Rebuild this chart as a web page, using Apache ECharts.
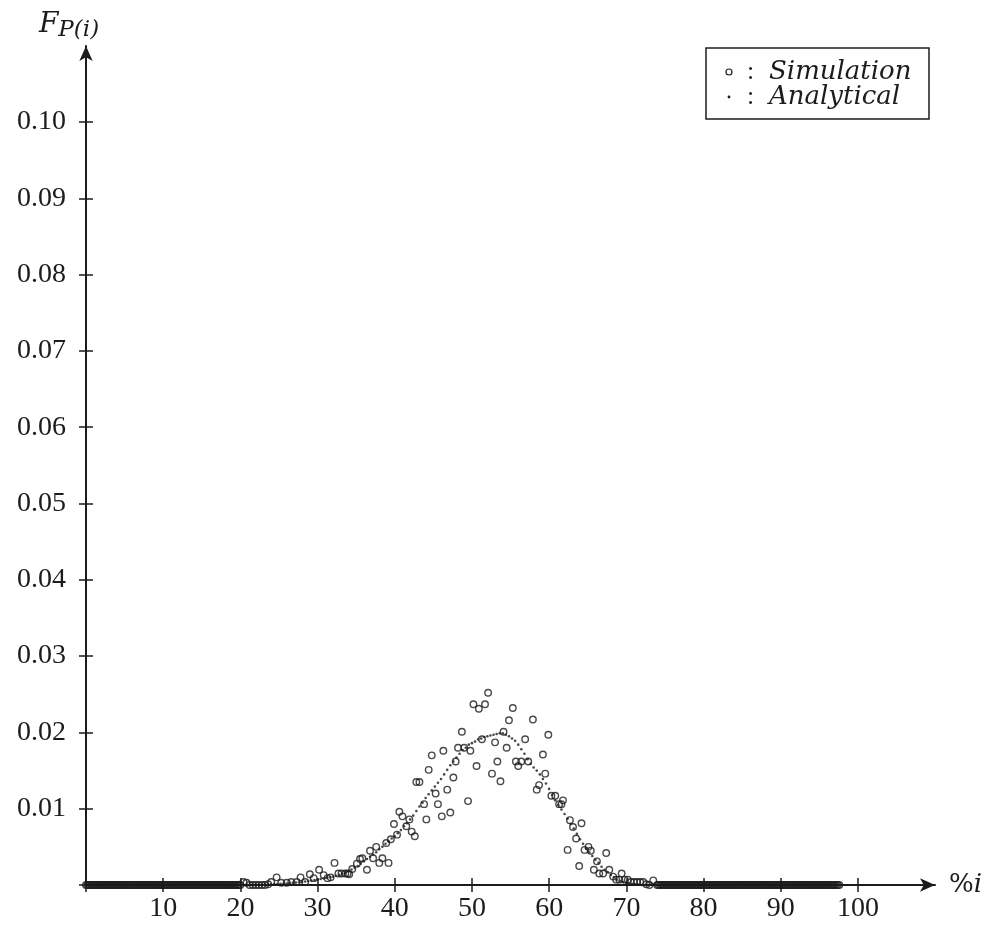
<!DOCTYPE html>
<html>
<head>
<meta charset="utf-8">
<title>F_P(i) distribution</title>
<script src="https://cdn.jsdelivr.net/npm/echarts@6.0.0/dist/echarts.min.js"></script>
<style>
  html, body { margin: 0; padding: 0; background: #fff; }
  #chart { width: 990px; height: 930px; }
</style>
</head>
<body>
<div id="chart"></div>
<script>
// ---- data -------------------------------------------------------------
// points lying on the axis (value 0) on both sides of the bump
const tailLeftX = [0,0.2,0.4,0.6,0.8,1,1.2,1.4,1.6,1.8,2,2.2,2.4,2.6,2.8,3,3.2,3.4,3.6,3.8,
  4,4.2,4.4,4.6,4.8,5,5.2,5.4,5.6,5.8,6,6.2,6.4,6.6,6.8,7,7.2,7.4,7.6,7.8,
  8,8.2,8.4,8.6,8.8,9,9.2,9.4,9.6,9.8,10,10.2,10.4,10.6,10.8,11,11.2,11.4,11.6,11.8,
  12,12.2,12.4,12.6,12.8,13,13.2,13.4,13.6,13.8,14,14.2,14.4,14.6,14.8,15,15.2,15.4,15.6,15.8,
  16,16.2,16.4,16.6,16.8,17,17.2,17.4,17.6,17.8,18,18.2,18.4,18.6,18.8,19,19.2,19.4,19.6,19.8,20];
const tailRightX = [74,74.2,74.4,74.6,74.8,75,75.2,75.4,75.6,75.8,76,76.2,76.4,76.6,76.8,77,77.2,77.4,77.6,77.8,
  78,78.2,78.4,78.6,78.8,79,79.2,79.4,79.6,79.8,80,80.2,80.4,80.6,80.8,81,81.2,81.4,81.6,81.8,
  82,82.2,82.4,82.6,82.8,83,83.2,83.4,83.6,83.8,84,84.2,84.4,84.6,84.8,85,85.2,85.4,85.6,85.8,
  86,86.2,86.4,86.6,86.8,87,87.2,87.4,87.6,87.8,88,88.2,88.4,88.6,88.8,89,89.2,89.4,89.6,89.8,
  90,90.2,90.4,90.6,90.8,91,91.2,91.4,91.6,91.8,92,92.2,92.4,92.6,92.8,93,93.2,93.4,93.6,93.8,
  94,94.2,94.4,94.6,94.8,95,95.2,95.4,95.6,95.8,96,96.2,96.4,96.6,96.8,97,97.2,97.4,97.6];

// simulated frequencies
const simX = [20.4,20.8,21.2,21.6,22,22.4,22.8,23.2,23.6,24,24.7,25.3,26,26.6,27.3,27.8,28.4,29,29.5,
  30.2,30.8,31.3,31.7,32.2,32.7,33.1,33.6,33.9,34.1,34.5,35.1,35.5,35.8,36.4,36.8,37.2,37.6,38,38.4,
  38.9,39.2,39.5,39.9,40.3,40.6,41,41.5,41.9,42.2,42.6,42.8,43.2,43.8,44.1,44.4,44.8,45.3,45.6,46.1,
  46.3,46.8,47.2,47.6,47.9,48.2,48.7,49,49.5,49.8,50.2,50.6,50.9,51.3,51.7,52.1,52.6,53,53.3,53.7,
  54.1,54.5,54.8,55.3,55.7,56,56.4,56.9,57.3,57.9,58.4,58.7,59.2,59.5,59.9,60.3,60.8,61.3,61.6,61.8,
  62.4,62.7,63.1,63.5,63.9,64.2,64.6,65.1,65.4,65.8,66.2,66.5,67,67.4,67.8,68.3,68.7,69.1,69.4,69.8,
  70.2,70.6,71,71.4,71.8,72.2,72.6,73,73.5];
const simY = [0.0004,0.0003,0,0,0,0,0,0,0.0001,0.0004,0.001,0.0003,0.0003,0.0004,0.0004,0.001,0.0004,0.0014,0.0009,
  0.002,0.0013,0.0009,0.001,0.0029,0.0015,0.0015,0.0015,0.0015,0.0014,0.0021,0.0028,0.0034,0.0035,0.002,0.0045,0.0035,0.005,0.0029,0.0035,
  0.0055,0.0029,0.006,0.008,0.0066,0.0096,0.009,0.0077,0.0086,0.007,0.0064,0.0135,0.0135,0.0106,0.0086,0.0151,0.017,0.012,0.0106,0.009,
  0.0176,0.0125,0.0095,0.0141,0.0162,0.018,0.0201,0.018,0.011,0.0176,0.0237,0.0156,0.0231,0.0191,0.0237,0.0252,0.0146,0.0187,0.0162,0.0136,
  0.0201,0.018,0.0216,0.0232,0.0162,0.0156,0.0162,0.0191,0.0162,0.0217,0.0125,0.0131,0.0171,0.0146,0.0197,0.0117,0.0117,0.0106,0.0106,0.0111,
  0.0046,0.0085,0.0076,0.0061,0.0025,0.0081,0.0046,0.005,0.0045,0.002,0.0031,0.0015,0.0015,0.0042,0.002,0.0011,0.0007,0.0007,0.0015,0.0007,
  0.0007,0.0004,0.0004,0.0004,0.0004,0.0004,0.0001,0,0.0006];

// analytical curve
const anaX = [20.4,20.8,21.2,21.6,22,22.4,22.8,23.2,23.6,24,24.4,24.8,25.2,25.6,26,26.4,26.8,27.2,27.6,28,
  28.4,28.8,29.2,29.6,30,30.4,30.8,31.2,31.6,32,32.4,32.8,33.2,33.6,34,34.4,34.8,35.2,35.6,36,
  36.4,36.8,37.2,37.6,38,38.4,38.8,39.2,39.6,40,40.4,40.8,41.2,41.6,42,42.4,42.8,43.2,43.6,44,
  44.4,44.8,45.2,45.6,46,46.4,46.8,47.2,47.6,48,48.4,48.8,49.2,49.6,50,50.4,50.8,51.2,51.6,52,
  52.4,52.8,53.2,53.6,54,54.4,54.8,55.2,55.6,56,56.4,56.8,57.2,57.6,58,58.4,58.8,59.2,59.6,60,
  60.4,60.8,61.2,61.6,62,62.4,62.8,63.2,63.6,64,64.4,64.8,65.2,65.6,66,66.4,66.8,67.2,67.6,68,
  68.4,68.8,69.2,69.6,70,70.4,70.8,71.2,71.6,72,72.4,72.8,73.2,73.6];
const anaY = [0,0,0,0,0.00002,0.00003,0.00004,0.00005,0.00007,0.00009,0.00011,0.00013,0.00015,0.00018,0.0002,0.00024,0.00028,0.00032,0.00036,0.0004,
  0.00046,0.00052,0.00058,0.00064,0.0007,0.00078,0.00086,0.00094,0.00102,0.0011,0.00122,0.00134,0.00146,0.00162,0.0018,0.00203,0.00226,0.0025,0.00278,0.0031,
  0.0034,0.0037,0.004,0.0043,0.0047,0.005,0.0054,0.0057,0.0061,0.0064,0.0068,0.0072,0.0077,0.0081,0.0086,0.0091,0.0097,0.0103,0.0108,0.0114,
  0.0119,0.0124,0.0129,0.0134,0.0139,0.0145,0.0151,0.0157,0.0162,0.0167,0.0172,0.0177,0.018,0.0184,0.0186,0.0188,0.0191,0.0192,0.0194,0.0195,
  0.0196,0.0197,0.0198,0.0199,0.0199,0.0197,0.0195,0.0192,0.0189,0.0184,0.0178,0.0172,0.0165,0.0159,0.0154,0.015,0.0145,0.0139,0.0133,0.0126,
  0.0118,0.0111,0.0105,0.0099,0.0093,0.0087,0.008,0.0074,0.0067,0.006,0.0054,0.0048,0.0043,0.0038,0.0033,0.0029,0.0024,0.002,0.0017,0.0013,
  0.001,0.0007,0.0005,0.0004,0.0003,0.0002,0.00015,0.0001,0.00005,0,0,0,0,0];

// tick labels
const xTickValues = [10,20,30,40,50,60,70,80,90,100];
const xTickLabels = ['10','20','30','40','50','60','70','80','90','100'];
const yTickValues = [0.01,0.02,0.03,0.04,0.05,0.06,0.07,0.08,0.09,0.10];
const yTickLabels = ['0.01','0.02','0.03','0.04','0.05','0.06','0.07','0.08','0.09','0.10'];

// ---- chart ------------------------------------------------------------
const ink = '#1c1c1c';
const romanFont = 'Liberation Serif';
const mathFont = 'DejaVu Serif';

function lookupLabel(values, labels, v) {
  const i = values.findIndex(t => Math.abs(t - v) < 1e-9);
  return i < 0 ? '' : labels[i];
}

const simData = [
  ...tailLeftX.map(x => [x, 0]),
  ...simX.map((x, i) => [x, simY[i]]),
  ...tailRightX.map(x => [x, 0])
];
const anaData = [
  ...tailLeftX.map(x => [x, 0]),
  ...anaX.map((x, i) => [x, anaY[i]]),
  ...tailRightX.map(x => [x, 0])
];

const chart = echarts.init(document.getElementById('chart'), null, { renderer: 'canvas' });

chart.setOption({
  animation: false,
  backgroundColor: '#fff',
  grid: [
    // plotting frame, up to the arrow heads
    { left: 86, right: 55, top: 46, bottom: 45 },
    // frame holding the ticked range 0..100 / 0..0.10
    { left: 86, right: 132, top: 122, bottom: 45 }
  ],
  xAxis: [
    {
      gridIndex: 0, type: 'value', min: 0, max: 110,
      axisLine: { show: true, symbol: ['none', 'arrow'], symbolSize: [10, 15],
                  lineStyle: { color: ink, width: 2 } },
      axisTick: { show: false }, axisLabel: { show: false }, splitLine: { show: false },
      name: '{p|%}{i|i}', nameLocation: 'end', nameGap: 14,
      nameTextStyle: {
        verticalAlign: 'middle',
        rich: {
          p: { fontFamily: mathFont, fontSize: 26, color: ink },
          i: { fontFamily: mathFont, fontStyle: 'italic', fontSize: 26, color: ink }
        }
      }
    },
    {
      gridIndex: 1, type: 'value', min: 0, max: 100, interval: 10, offset: -7,
      axisLine: { show: false },
      axisTick: { show: true, length: 14, lineStyle: { color: ink, width: 1.5 } },
      axisLabel: {
        margin: 17, fontFamily: romanFont, fontSize: 28, color: ink,
        formatter: v => lookupLabel(xTickValues, xTickLabels, v)
      },
      splitLine: { show: false }
    }
  ],
  yAxis: [
    {
      gridIndex: 0, type: 'value', min: 0, max: 0.11,
      axisLine: { show: true, symbol: ['none', 'arrow'], symbolSize: [10, 15],
                  lineStyle: { color: ink, width: 2 } },
      axisTick: { show: false }, axisLabel: { show: false }, splitLine: { show: false },
      name: '{f|F}{s|P(i)}', nameLocation: 'end', nameGap: 11,
      nameTextStyle: {
        align: 'center', verticalAlign: 'bottom', padding: [0, 34, 0, 0],
        rich: {
          f: { fontFamily: mathFont, fontStyle: 'italic', fontSize: 28, lineHeight: 24,
               verticalAlign: 'top', color: ink },
          s: { fontFamily: mathFont, fontStyle: 'italic', fontSize: 23, lineHeight: 22,
               padding: [14, 0, 0, 0], color: ink }
        }
      }
    },
    {
      gridIndex: 1, type: 'value', min: 0, max: 0.10, interval: 0.01, offset: -7,
      axisLine: { show: false },
      axisTick: { show: true, length: 14, lineStyle: { color: ink, width: 1.5 } },
      axisLabel: {
        margin: 27, fontFamily: romanFont, fontSize: 28, color: ink,
        formatter: v => lookupLabel(yTickValues, yTickLabels, v)
      },
      splitLine: { show: false }
    }
  ],
  series: [
    {
      name: 'Analytical', type: 'scatter', xAxisIndex: 0, yAxisIndex: 0,
      symbol: 'circle', symbolSize: 2.6, silent: true, z: 3,
      itemStyle: { color: ink },
      data: anaData
    },
    {
      name: 'Simulation', type: 'scatter', xAxisIndex: 0, yAxisIndex: 0,
      symbol: 'circle', symbolSize: 6.5, silent: true, z: 4,
      itemStyle: { color: 'rgba(0,0,0,0)', borderColor: ink, borderWidth: 1.4 },
      data: simData
    }
  ],
  graphic: [
    { type: 'rect', x: 706, y: 48, shape: { width: 223, height: 71 },
      style: { fill: '#fff', stroke: ink, lineWidth: 1.5 }, z: 10 },
    { type: 'circle', shape: { cx: 729, cy: 72, r: 3 },
      style: { fill: 'none', stroke: ink, lineWidth: 1.2 }, z: 11 },
    { type: 'circle', shape: { cx: 729, cy: 97, r: 1.4 },
      style: { fill: ink }, z: 11 },
    { type: 'text', x: 747, y: 72, z: 11,
      style: { text: ':', font: '26px "Liberation Serif"', fill: ink, verticalAlign: 'middle' } },
    { type: 'text', x: 747, y: 97, z: 11,
      style: { text: ':', font: '26px "Liberation Serif"', fill: ink, verticalAlign: 'middle' } },
    { type: 'text', x: 769, y: 72, z: 11,
      style: { text: 'Simulation', font: 'italic 26px "DejaVu Serif"', fill: ink, verticalAlign: 'middle' } },
    { type: 'text', x: 769, y: 97, z: 11,
      style: { text: 'Analytical', font: 'italic 26px "DejaVu Serif"', fill: ink, verticalAlign: 'middle' } }
  ]
});
</script>
</body>
</html>
